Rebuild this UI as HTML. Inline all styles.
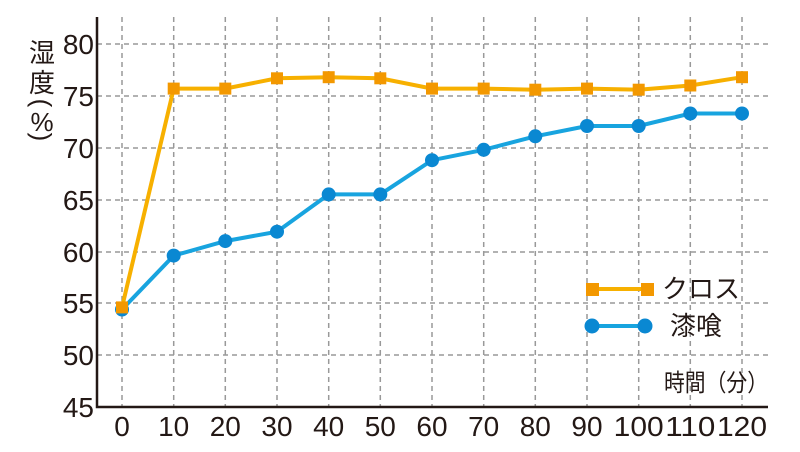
<!DOCTYPE html>
<html><head><meta charset="utf-8"><style>
body{margin:0;background:#fff;}
text{font-family:"Liberation Sans","Noto Sans CJK JP",sans-serif;fill:#231815;}
</style></head><body>
<svg width="800" height="447" viewBox="0 0 800 447" xmlns="http://www.w3.org/2000/svg">
<g stroke="#999" stroke-width="1.5" stroke-dasharray="5,4">
<line x1="97" y1="44" x2="768" y2="44"/><line x1="97" y1="96" x2="768" y2="96"/>
<line x1="97" y1="148" x2="768" y2="148"/><line x1="97" y1="200" x2="768" y2="200"/>
<line x1="97" y1="252" x2="768" y2="252"/><line x1="97" y1="303" x2="768" y2="303"/>
<line x1="97" y1="355" x2="768" y2="355"/>
<line x1="122" y1="17" x2="122" y2="407"/><line x1="173.7" y1="17" x2="173.7" y2="407"/>
<line x1="225.3" y1="17" x2="225.3" y2="407"/><line x1="277" y1="17" x2="277" y2="407"/>
<line x1="328.7" y1="17" x2="328.7" y2="407"/><line x1="380.3" y1="17" x2="380.3" y2="407"/>
<line x1="432" y1="17" x2="432" y2="407"/><line x1="483.7" y1="17" x2="483.7" y2="407"/>
<line x1="535.3" y1="17" x2="535.3" y2="407"/><line x1="587" y1="17" x2="587" y2="407"/>
<line x1="638.7" y1="17" x2="638.7" y2="407"/><line x1="690.3" y1="17" x2="690.3" y2="407"/>
<line x1="742" y1="17" x2="742" y2="407"/>
</g>
<path d="M97 17 V407 H768" fill="none" stroke="#231815" stroke-width="2.5"/>
<g font-size="28" text-anchor="end">
<text x="94" y="54">80</text><text x="94" y="106">75</text><text x="94" y="158">70</text>
<text x="94" y="210">65</text><text x="94" y="262">60</text><text x="94" y="313">55</text>
<text x="94" y="365">50</text><text x="94" y="417">45</text>
</g>
<g font-size="28" text-anchor="middle">
<text x="122" y="436">0</text><text x="173.7" y="436">10</text><text x="225.3" y="436">20</text>
<text x="277" y="436">30</text><text x="328.7" y="436">40</text><text x="380.3" y="436">50</text>
<text x="432" y="436">60</text><text x="483.7" y="436">70</text><text x="535.3" y="436">80</text>
<text x="587" y="436">90</text><text x="638.7" y="436" textLength="50" lengthAdjust="spacingAndGlyphs">100</text><text x="690.3" y="436" textLength="50" lengthAdjust="spacingAndGlyphs">110</text>
<text x="742" y="436" textLength="50" lengthAdjust="spacingAndGlyphs">120</text>
</g>
<g font-size="26" text-anchor="middle">
<text x="42" y="62">湿</text><text x="42" y="92">度</text>
<text x="42" y="112" transform="rotate(90 42 103)">(</text>
<text x="42" y="131">%</text>
<text x="42" y="146" transform="rotate(90 42 137)">)</text>
</g>
<text x="664" y="391" font-size="24" textLength="104" lengthAdjust="spacingAndGlyphs">時間（分）</text>
<polyline fill="none" stroke="#18a4df" stroke-width="4" points="122,309.5 173.7,255.6 225.3,241.1 277,231.7 328.7,194.4 380.3,194.4 432,160.2 483.7,149.8 535.3,136.3 587,126 638.7,126 690.3,113.5 742,113.5"/>
<g fill="#0a88d2">
<circle cx="122" cy="309.5" r="7"/><circle cx="173.7" cy="255.6" r="7"/><circle cx="225.3" cy="241.1" r="7"/>
<circle cx="277" cy="231.7" r="7"/><circle cx="328.7" cy="194.4" r="7"/><circle cx="380.3" cy="194.4" r="7"/>
<circle cx="432" cy="160.2" r="7"/><circle cx="483.7" cy="149.8" r="7"/><circle cx="535.3" cy="136.3" r="7"/>
<circle cx="587" cy="126" r="7"/><circle cx="638.7" cy="126" r="7"/><circle cx="690.3" cy="113.5" r="7"/>
<circle cx="742" cy="113.5" r="7"/>
</g>
<polyline fill="none" stroke="#f7b000" stroke-width="4" points="122,307.4 173.7,88.6 225.3,88.6 277,78.3 328.7,77.2 380.3,78.3 432,88.6 483.7,88.6 535.3,89.7 587,88.6 638.7,89.7 690.3,85.5 742,77.2"/>
<g fill="#f39800">
<rect x="116" y="301.4" width="12" height="12"/><rect x="167.7" y="82.6" width="12" height="12"/>
<rect x="219.3" y="82.6" width="12" height="12"/><rect x="271" y="72.3" width="12" height="12"/>
<rect x="322.7" y="71.2" width="12" height="12"/><rect x="374.3" y="72.3" width="12" height="12"/>
<rect x="426" y="82.6" width="12" height="12"/><rect x="477.7" y="82.6" width="12" height="12"/>
<rect x="529.3" y="83.7" width="12" height="12"/><rect x="581" y="82.6" width="12" height="12"/>
<rect x="632.7" y="83.7" width="12" height="12"/><rect x="684.3" y="79.5" width="12" height="12"/>
<rect x="736" y="71.2" width="12" height="12"/>
</g>
<line x1="592" y1="289" x2="648" y2="289" stroke="#f7b000" stroke-width="4"/>
<rect x="586" y="283" width="13" height="13" fill="#f39800"/><rect x="641" y="283" width="13" height="13" fill="#f39800"/>
<line x1="592" y1="326" x2="645" y2="326" stroke="#18a4df" stroke-width="4"/>
<circle cx="592" cy="326" r="7.5" fill="#0a88d2"/><circle cx="645" cy="326" r="7.5" fill="#0a88d2"/>
<text x="662" y="298" font-size="26">クロス</text>
<text x="670" y="335" font-size="26">漆喰</text>
</svg>
</body></html>
